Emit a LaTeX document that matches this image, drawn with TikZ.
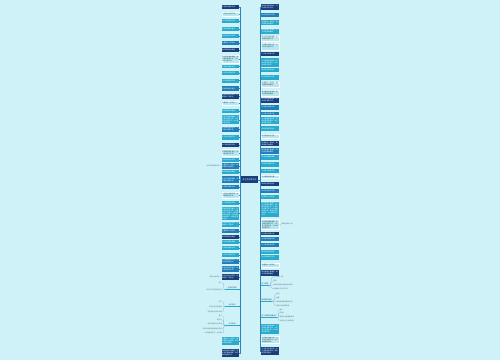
\documentclass[tikz,border=0pt]{standalone}
\usepackage{fontspec}
\usepackage{tikz}
\newfontfamily\cjk{Noto Sans CJK SC}
\XeTeXlinebreaklocale "zh"
\XeTeXlinebreakskip=0pt plus 0.1pt
\definecolor{cbg}{HTML}{CFF2F8}
\definecolor{cnavy}{HTML}{183E7B}
\definecolor{cblue}{HTML}{1F7DB8}
\definecolor{ccyan}{HTML}{27AACD}
\definecolor{cpale}{HTML}{B7E8F2}
\definecolor{cink}{HTML}{2C4B5A}
\definecolor{cline}{HTML}{2B86BE}

% filler lines for the cards
\newcommand\phr[1]{\ifcase#1 春风拂面花香满园\or 阳光洒在静谧湖面\or 岁月静好温柔以待\or 心中有光步履不停\or 山川湖海皆是风景\or 愿你眼里常有星光\or 时光清浅岁月无恙\or 往事随风一笑而过\fi，}
\newcommand\cardtext[2]{\foreach \j in {1,...,#2}{\pgfmathtruncatemacro\p{mod(#1+\j,8)}\phr{\p}}}

\begin{document}
\begin{tikzpicture}[x=1pt, y=-1pt,
      card/.style={anchor=north west, minimum width=17.5pt, text width=16.5pt, inner sep=0.5pt,
        align=left, font=\cjk\fontsize{1.6}{2}\selectfont},
      tnavy/.style={fill=cnavy, text=white},
      tblue/.style={fill=cblue, text=white},
      tcyan/.style={fill=ccyan, text=white},
      tpale/.style={fill=cpale, draw=white, line width=0.3pt, text=cink},
      hubbox/.style={anchor=north west, fill=cnavy, text=white, minimum width=17pt, minimum height=7pt,
        inner sep=0.5pt, font=\cjk\fontsize{2}{2.4}\selectfont},
      stem/.style={text=cink, inner sep=0.4pt, font=\cjk\fontsize{1.7}{2}\selectfont},
      leaf/.style={text=cink!80, inner sep=0.3pt, font=\cjk\fontsize{1.6}{2}\selectfont},
      link/.style={draw=cline, line width=0.35pt},
      uline/.style={draw=ccyan, line width=0.9pt},
      twig/.style={draw=cline!60, line width=0.25pt}]
    \fill[cbg] (0,0) rectangle (500,360);
    \useasboundingbox (0,0) rectangle (500,360);

    \node[hubbox] (hub) at (241,176) {关于生活的句子};

    % left column
    \foreach \i/\ya/\yb/\tn/\n in {1/5/8.5/tnavy/1, 2/12/16/tpale/1, 3/19/23/tcyan/1, 4/26.5/30.5/tcyan/1,
        5/33.5/37.5/tcyan/1, 6/40.5/44.5/tblue/1, 7/48/52/tnavy/1, 8/55/62.7/tpale/3, 9/64.5/68/tcyan/1,
        10/70.7/74.7/tcyan/1, 11/78.3/82.3/tcyan/1, 12/86/90.7/tblue/1, 13/93.3/98.3/tnavy/2,
        14/100.7/105/tpale/1, 15/108.3/112.7/tcyan/1, 16/115/124/tcyan/4, 17/126.7/131.7/tblue/2,
        18/135/139.3/tcyan/1, 19/142.7/146.7/tnavy/1, 20/149.3/156/tpale/2, 21/157.5/161.5/tcyan/1,
        22/163/168.3/tblue/2, 23/170/174/tcyan/1, 24/176/182.7/tblue/2, 25/185/188.3/tblue/1,
        26/191.7/198.3/tpale/2, 27/200.7/205/tcyan/1, 28/206.7/220/tcyan/6, 29/221.7/226.7/tcyan/2,
        30/229/233/tblue/1, 31/235/238.3/tnavy/1, 32/240/244/tcyan/1, 33/246/250/tcyan/1,
        34/252.7/256.7/tcyan/1, 35/258.3/263.3/tblue/2, 36/266/271.7/tblue/2, 37/273.3/280/tnavy/2,
        38/336.7/345/tcyan/3, 39/348.3/356.7/tnavy/3}{
      \node[card, \tn, minimum height={(\yb-\ya)*1pt}] (l\i) at (221.5,\ya) {\cardtext{\i}{\n}};
      \draw[link] (hub.west) -- ++(-0.8,0) |- (l\i.east);
    }

    % right column
    \foreach \i/\ya/\yb/\tn/\n in {1/3.5/10/tnavy/2, 2/12.3/16.7/tblue/1, 3/20/25/tcyan/2, 4/28.3/33.3/tcyan/2,
        5/35.5/40.7/tpale/2, 6/43/49.5/tpale/2, 7/51.7/56/tnavy/1, 8/58/66.5/tcyan/3, 9/68/72/tcyan/1,
        10/75/79.3/tcyan/1, 11/81.7/86.7/tpale/2, 12/90/96/tpale/2, 13/97.5/102.7/tnavy/2,
        14/105/109.3/tblue/1, 15/111.7/115/tblue/1, 16/116.5/124/tcyan/3, 17/126/130.7/tcyan/1,
        18/134/138.3/tpale/1, 19/140.7/146/tnavy/2, 20/147.3/153.3/tblue/2, 21/155/159.3/tcyan/1,
        22/161.7/166.3/tcyan/1, 23/168.3/172.7/tcyan/1, 24/175/178.3/tpale/1, 25/181.7/186/tnavy/1,
        26/188.3/192.7/tblue/1, 27/194.5/198.5/tcyan/1, 28/201.7/216.7/tcyan/7, 29/219.3/229.3/tpale/4,
        30/231.7/235/tnavy/1, 31/237/240.3/tblue/1, 32/243/246.7/tblue/1, 33/249.3/253.3/tcyan/1,
        34/255/259.3/tcyan/1, 35/262.7/267/tpale/1, 36/269.3/275.5/tnavy/2,
        37/323.3/333.3/tcyan/4, 38/336/343.3/tpale/3, 39/346.7/355/tnavy/3}{
      \node[card, \tn, minimum height={(\yb-\ya)*1pt}] (r\i) at (261,\ya) {\cardtext{\i+3}{\n}};
      \draw[link] (hub.east) -- ++(1.5,0) |- (r\i.west);
    }

    % loose notes beside cards
    \node[leaf, anchor=east] (lx1) at (220,165.6) {点滴日常皆是美好};
    \draw[twig] (l22.west) -- (lx1.east);
    \node[leaf, anchor=east] (lx2) at (220,276.7) {偶尔也会想念};
    \draw[twig] (l37.west) -- (lx2.east);
    \node[leaf, anchor=west] (rx1) at (281,224.3) {晚风轻拂过心间};
    \draw[twig] (r29.east) -- (rx1.west);

    % left branches
    \node[stem, minimum width=14pt, anchor=south west] (lb1) at (225,289.5) {生活的感悟};
    \node[stem, minimum width=14pt, anchor=south west] (lb2) at (225,306.5) {关于成长};
    \node[stem, minimum width=14pt, anchor=south west] (lb3) at (225,325.5) {关于未来};
    \foreach \b in {lb1,lb2,lb3}{
      \draw[uline] (\b.south west) -- (\b.south east);
      \draw[link] (hub.west) -- ++(-0.8,0) |- (\b.south east);
    }
    \foreach \y/\s [count=\m] in {282.7/其一, 290/平凡的日子里也有光亮}{
      \node[leaf, anchor=east] (lc1\m) at (222.5,\y) {\s};
      \draw[twig] (lb1.south west) to[out=180, in=0] (lc1\m.east);
    }
    \foreach \y/\s [count=\m] in {301.7/其二, 306.7/成长总在不经意间, 311.7/学会告别也学会珍惜}{
      \node[leaf, anchor=east] (lc2\m) at (222.5,\y) {\s};
      \draw[twig] (lb2.south west) to[out=180, in=0] (lc2\m.east);
    }
    \foreach \y/\s [count=\m] in {316/其三, 320/看远方, 324.3/未来可期且行且珍惜,
        328.7/愿所有的美好都能如约而至, 333/心怀热爱奔赴下一场山海}{
      \node[leaf, anchor=east] (lc3\m) at (222.5,\y) {\s};
      \draw[twig] (lb3.south west) to[out=180, in=0] (lc3\m.east);
    }

    % right branches
    \node[stem, anchor=south west] (rb1) at (261,285.5) {关于友情};
    \node[stem, anchor=south west] (rb2) at (261,301.5) {爱情里的温柔};
    \node[stem, anchor=south west] (rb3) at (261,317.5) {关于亲情的温暖句子};
    \foreach \b in {rb1,rb2,rb3}{
      \draw[uline] (\b.south west) -- (\b.south east);
      \draw[link] (hub.east) -- ++(1.5,0) |- (\b.south west);
    }
    \foreach \y/\s [count=\m] in {277/知己难得一遇, 281/陪伴, 285/真正的朋友在你低谷时出现, 289/友谊地久天长永不变}{
      \node[leaf, anchor=west] (rc1\m) at (273,\y) {\s};
      \draw[twig] (rb1.south east) to[out=0, in=180] (rc1\m.west);
    }
    \foreach \y/\s [count=\m] in {294/相守, 297.7/相知, 301.7/喜欢是放肆而爱是克制, 306/愿有人陪你看日落}{
      \node[leaf, anchor=west] (rc2\m) at (276,\y) {\s};
      \draw[twig] (rb2.south east) to[out=0, in=180] (rc2\m.west);
    }
    \foreach \y/\s [count=\m] in {310/家人, 313/归途中, 316.7/家是永远温暖的港湾, 320.7/父母在人生尚有来处}{
      \node[leaf, anchor=west] (rc3\m) at (279,\y) {\s};
      \draw[twig] (rb3.south east) to[out=0, in=180] (rc3\m.west);
    }
\end{tikzpicture}
\end{document}
